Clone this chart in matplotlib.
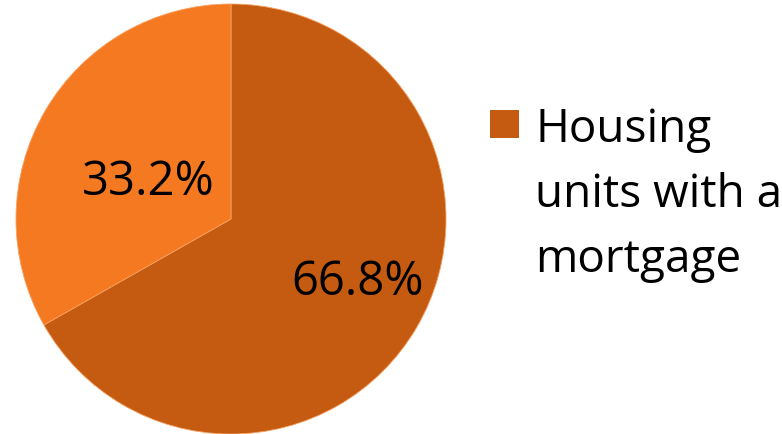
import matplotlib
matplotlib.use("Agg")
import matplotlib.pyplot as plt
from matplotlib.patches import Rectangle

# data
labels = ["Housing\nunits with a\nmortgage", "Housing\nunits without a\nmortgage"]
values = [66.8, 33.2]
colors = ["#C55A11", "#F47920"]
label_pos = [(0.59, -0.29), (-0.386, 0.175)]  # percent label spots (axes data units)

plt.rcParams['font.family'] = ['Open Sans', 'DejaVu Sans']

W, H = 782, 435
fig = plt.figure(figsize=(W/100, H/100), dpi=100)
# pie area in pixels: left 16, width 430, bottom 0, height 430
ax = fig.add_axes([16/W, 0/H, 430/W, 430/H])

wedges, texts, autotexts = ax.pie(values, colors=colors, startangle=90,
                                  counterclock=False, autopct='%1.1f%%',
                                  radius=1.0,
                                  wedgeprops=dict(edgecolor='#F7A060', linewidth=0.6),
                                  textprops=dict(fontsize=34, color='black'))
for t, p in zip(autotexts, label_pos):
    t.set_position(p)
ax.set_xlim(-1, 1)
ax.set_ylim(-1, 1)
ax.set_aspect('equal')

# legend drawn by hand: only the first entry is visible in the reference
fig.patches.append(Rectangle((490/W, 1 - 139/H), 29/W, 28/H,
                             transform=fig.transFigure, facecolor=colors[0],
                             edgecolor='none'))
for i, line in enumerate(labels[0].split("\n")):
    fig.text(535/W, 1 - (142 + 65*i)/H, line, fontsize=33,
             ha='left', va='baseline', color='black')

fig.savefig("out.png", dpi=100)
